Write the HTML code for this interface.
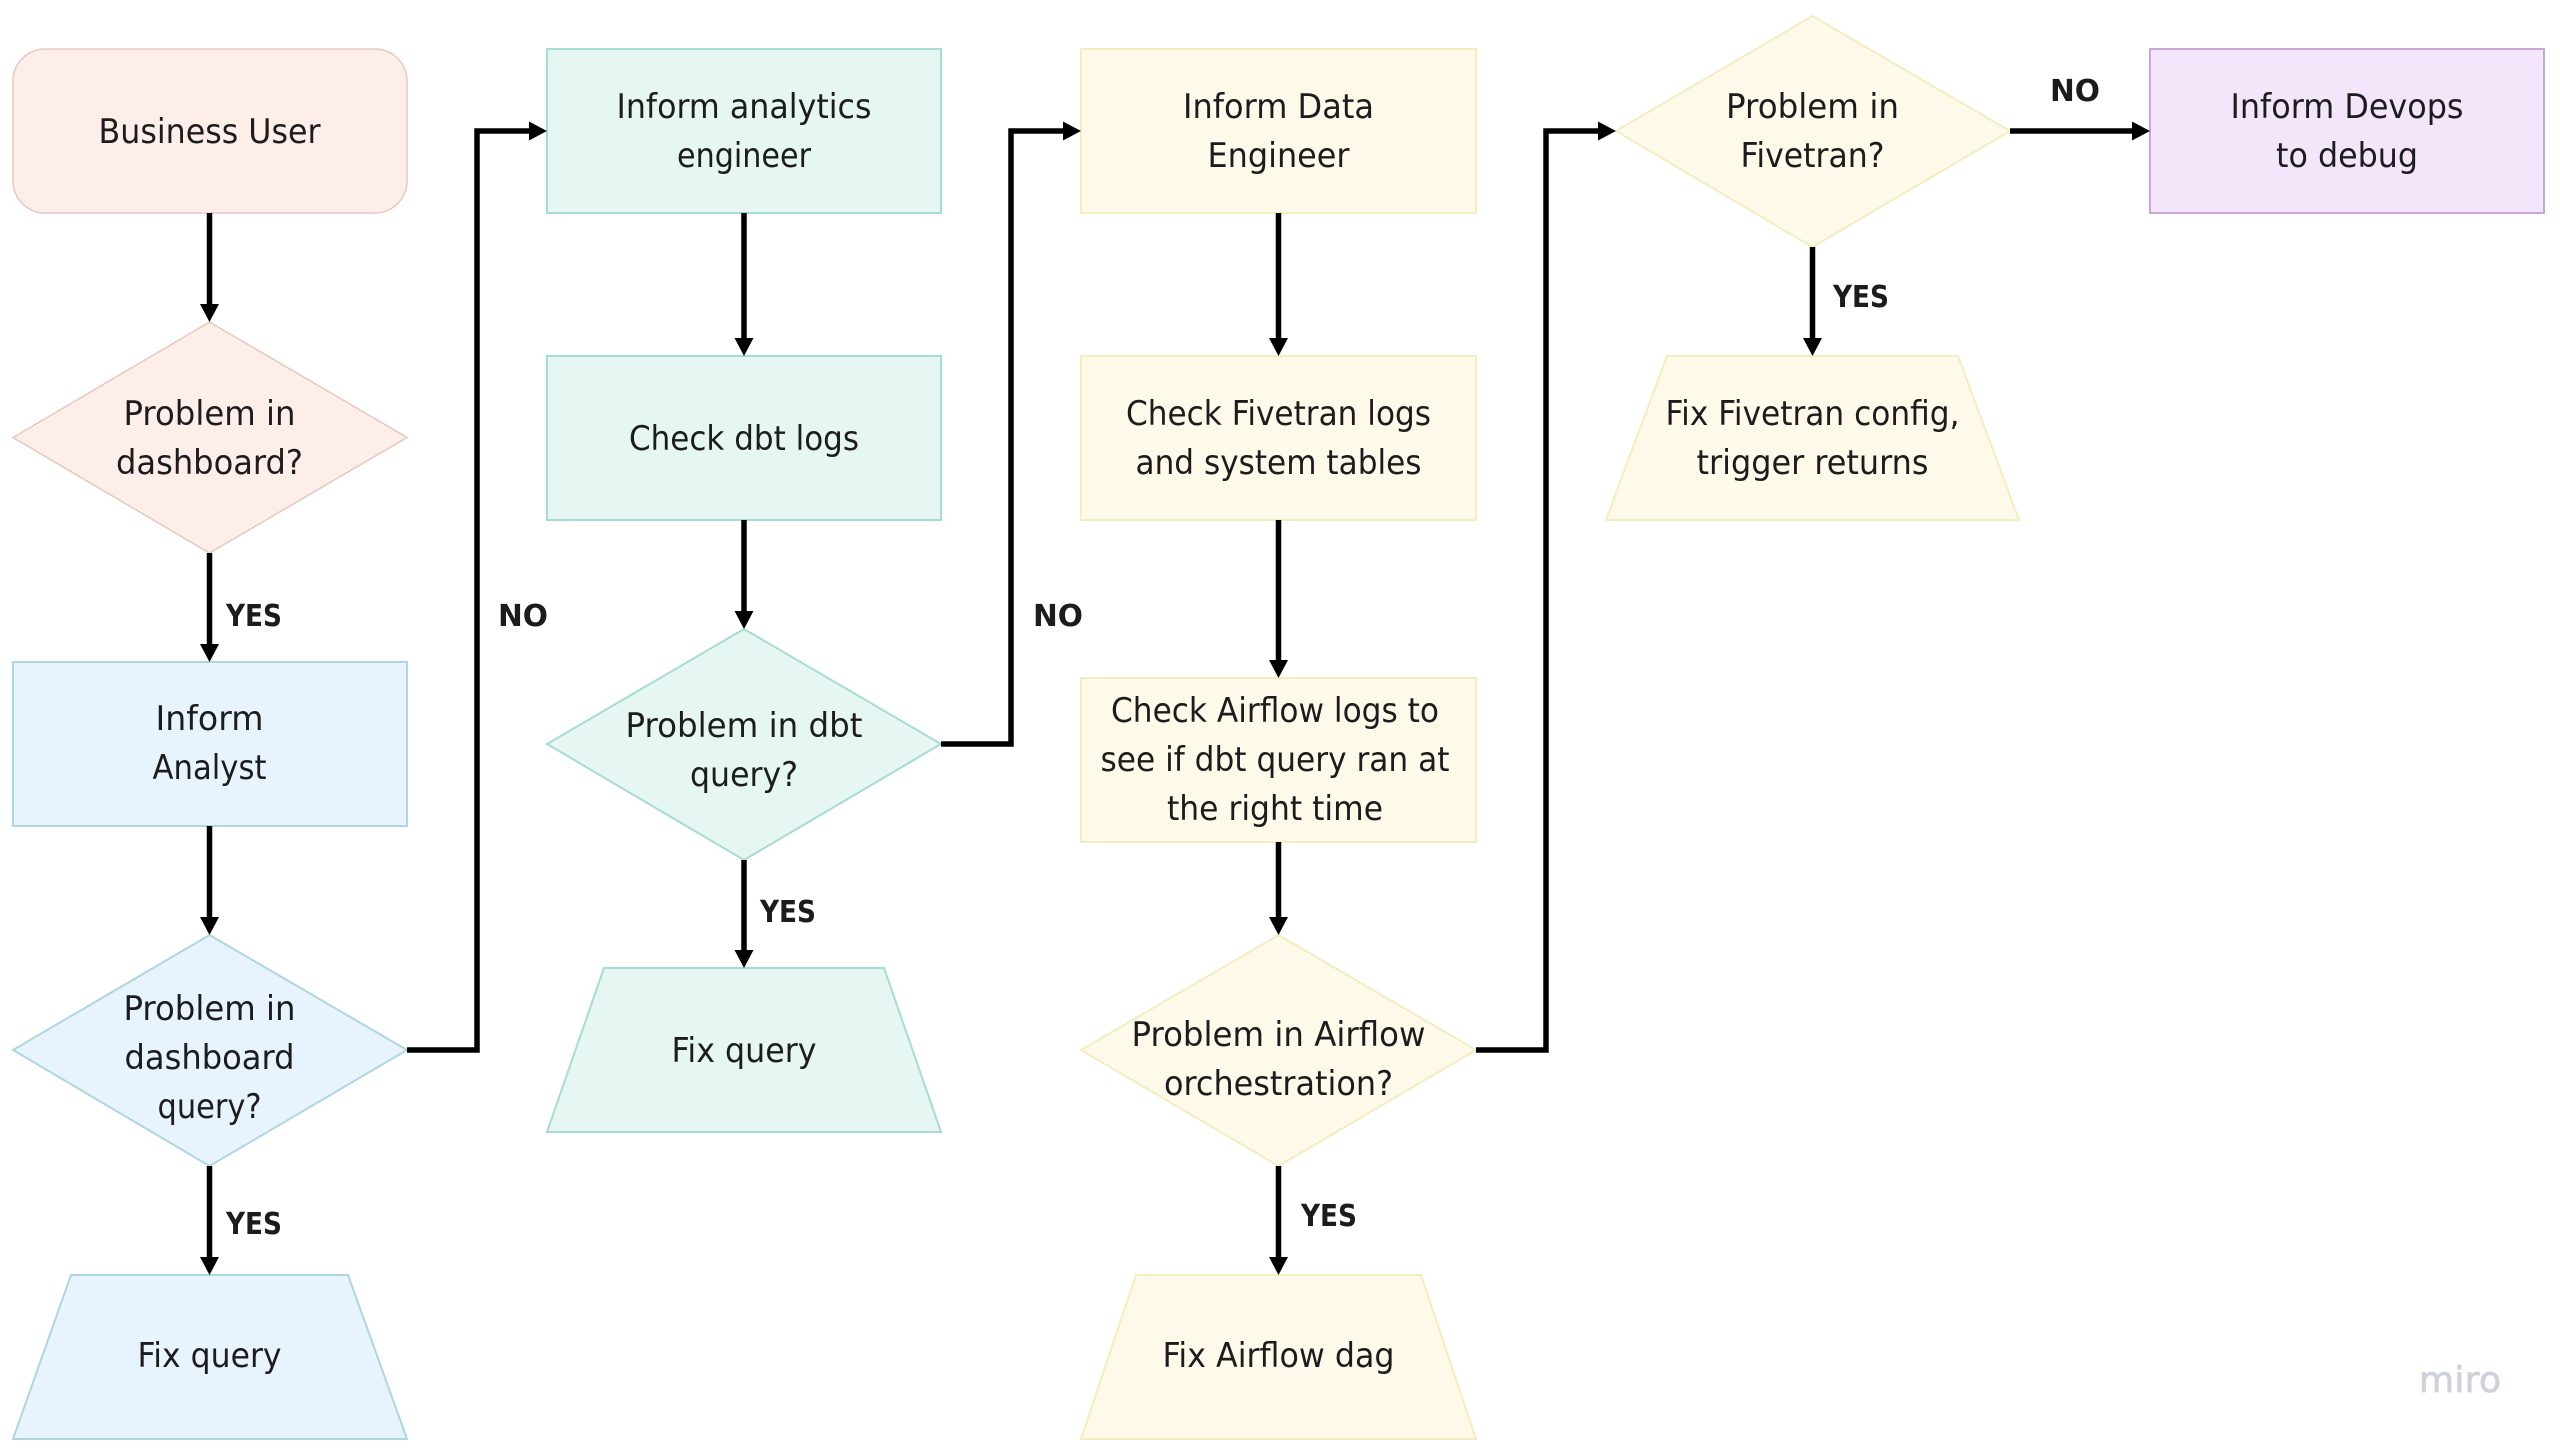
<!DOCTYPE html>
<html>
<head>
<meta charset="utf-8">
<style>
html,body{margin:0;padding:0;background:#fff;}
svg{display:block;}
text{font-family:"DejaVu Sans","Liberation Sans",sans-serif;font-size:34px;fill:#1c1c1e;text-anchor:middle;}
text.b{font-weight:bold;font-size:30px;}
.l{fill:none;stroke:#000;stroke-width:5.5;stroke-linejoin:miter;}
.h{fill:#000;stroke:none;}
.pk{fill:#fdeee9;stroke:#e6c8be;stroke-width:1.5;}
.te{fill:#e6f6f2;stroke:#a6dcd2;stroke-width:2;}
.bl{fill:#e8f4fd;stroke:#aed6e2;stroke-width:2;}
.ye{fill:#fef9e8;stroke:#f3eec0;stroke-width:2;}
.pu{fill:#f4e6fa;stroke:#c8a6d6;stroke-width:2;}
</style>
</head>
<body>
<svg width="2560" height="1452" viewBox="0 0 2560 1452" xmlns="http://www.w3.org/2000/svg">
<rect width="2560" height="1452" fill="#fff"/>

<!-- Column 1 shapes -->
<rect class="pk" x="13" y="49" width="394" height="164" rx="32" ry="32"/>
<polygon class="pk" points="209.500,322 407,437.500 209.500,553 13,437.500"/>
<rect class="bl" x="13" y="662" width="394" height="164"/>
<polygon class="bl" points="209.500,935 407,1050 209.500,1166 13,1050"/>
<polygon class="bl" points="71,1275 348,1275 407,1439 13,1439"/>

<!-- Column 2 shapes -->
<rect class="te" x="547" y="49" width="394" height="164"/>
<rect class="te" x="547" y="356" width="394" height="164"/>
<polygon class="te" points="744,629 941,744 744,860 547,744"/>
<polygon class="te" points="604,968 884,968 941,1132 547,1132"/>

<!-- Column 3 shapes -->
<rect class="ye" x="1081" y="49" width="395" height="164"/>
<rect class="ye" x="1081" y="356" width="395" height="164"/>
<rect class="ye" x="1081" y="678" width="395" height="164"/>
<polygon class="ye" points="1278.500,935 1476,1050 1278.500,1166 1081,1050"/>
<polygon class="ye" points="1136,1275 1421,1275 1476,1439 1081,1439"/>

<!-- Column 4 shapes -->
<polygon class="ye" points="1812.500,16 2010,131 1812.500,247 1616,131"/>
<polygon class="ye" points="1667,356 1958,356 2019,520 1606,520"/>
<rect class="pu" x="2150" y="49" width="394" height="164"/>

<!-- Vertical connectors -->
<path class="l" d="M209.500 213V306M209.500 553V646M209.500 826V919M209.500 1166V1259"/>
<path class="h" d="M200 304h19l-9.500 18zM200 644h19l-9.500 18zM200 917h19l-9.500 18zM200 1257h19l-9.500 18z"/>
<path class="l" d="M744 213V340M744 520V613M744 860V952"/>
<path class="h" d="M734.500 338h19l-9.500 18zM734.500 611h19l-9.500 18zM734.500 950h19l-9.500 18z"/>
<path class="l" d="M1278.500 213V340M1278.500 520V662M1278.500 842V919M1278.500 1166V1259"/>
<path class="h" d="M1269 338h19l-9.500 18zM1269 660h19l-9.500 18zM1269 917h19l-9.500 18zM1269 1257h19l-9.500 18z"/>
<path class="l" d="M1812.500 247V340"/>
<path class="h" d="M1803 338h19l-9.500 18z"/>

<!-- Elbow connectors -->
<path class="l" d="M407 1050H477V131H531"/>
<path class="h" d="M529 121.500v19l18-9.500z"/>
<path class="l" d="M941 744H1011V131H1065"/>
<path class="h" d="M1063 121.500v19l18-9.500z"/>
<path class="l" d="M1476 1050H1546V131H1600"/>
<path class="h" d="M1598 121.500v19l18-9.500z"/>
<path class="l" d="M2010 131H2134"/>
<path class="h" d="M2132 121.500v19l18-9.500z"/>

<!-- Node labels -->
<text x="209.500" y="143" textLength="222" lengthAdjust="spacingAndGlyphs">Business User</text>
<text x="209.500" y="425" textLength="172" lengthAdjust="spacingAndGlyphs">Problem in</text>
<text x="209.500" y="474" textLength="187" lengthAdjust="spacingAndGlyphs">dashboard?</text>
<text x="209.500" y="730" textLength="108" lengthAdjust="spacingAndGlyphs">Inform</text>
<text x="209.500" y="779" textLength="114" lengthAdjust="spacingAndGlyphs">Analyst</text>
<text x="209.500" y="1020" textLength="172" lengthAdjust="spacingAndGlyphs">Problem in</text>
<text x="209.500" y="1069" textLength="170" lengthAdjust="spacingAndGlyphs">dashboard</text>
<text x="209.500" y="1118" textLength="104" lengthAdjust="spacingAndGlyphs">query?</text>
<text x="209.500" y="1367" textLength="144" lengthAdjust="spacingAndGlyphs">Fix query</text>

<text x="744" y="118" textLength="255" lengthAdjust="spacingAndGlyphs">Inform analytics</text>
<text x="744" y="167" textLength="134" lengthAdjust="spacingAndGlyphs">engineer</text>
<text x="744" y="450" textLength="230" lengthAdjust="spacingAndGlyphs">Check dbt logs</text>
<text x="744" y="737" textLength="237" lengthAdjust="spacingAndGlyphs">Problem in dbt</text>
<text x="744" y="786" textLength="108" lengthAdjust="spacingAndGlyphs">query?</text>
<text x="744" y="1062" textLength="145" lengthAdjust="spacingAndGlyphs">Fix query</text>

<text x="1278.500" y="118" textLength="191" lengthAdjust="spacingAndGlyphs">Inform Data</text>
<text x="1278.500" y="167" textLength="142" lengthAdjust="spacingAndGlyphs">Engineer</text>
<text x="1278.500" y="425" textLength="305" lengthAdjust="spacingAndGlyphs">Check Fivetran logs</text>
<text x="1278.500" y="474" textLength="286" lengthAdjust="spacingAndGlyphs">and system tables</text>
<text x="1275" y="722" textLength="328" lengthAdjust="spacingAndGlyphs">Check Airflow logs to</text>
<text x="1275" y="771" textLength="349" lengthAdjust="spacingAndGlyphs">see if dbt query ran at</text>
<text x="1275" y="820" textLength="216" lengthAdjust="spacingAndGlyphs">the right time</text>
<text x="1278.500" y="1046" textLength="294" lengthAdjust="spacingAndGlyphs">Problem in Airflow</text>
<text x="1278.500" y="1095" textLength="229" lengthAdjust="spacingAndGlyphs">orchestration?</text>
<text x="1278.500" y="1367" textLength="232" lengthAdjust="spacingAndGlyphs">Fix Airflow dag</text>

<text x="1812.500" y="118" textLength="173" lengthAdjust="spacingAndGlyphs">Problem in</text>
<text x="1812.500" y="167" textLength="144" lengthAdjust="spacingAndGlyphs">Fivetran?</text>
<text x="1812.500" y="425" textLength="294" lengthAdjust="spacingAndGlyphs">Fix Fivetran config,</text>
<text x="1812.500" y="474" textLength="232" lengthAdjust="spacingAndGlyphs">trigger returns</text>
<text x="2347" y="118" textLength="233" lengthAdjust="spacingAndGlyphs">Inform Devops</text>
<text x="2347" y="167" textLength="142" lengthAdjust="spacingAndGlyphs">to debug</text>

<!-- Connector labels -->
<text class="b" x="254" y="626" textLength="56" lengthAdjust="spacingAndGlyphs">YES</text>
<text class="b" x="254" y="1234" textLength="56" lengthAdjust="spacingAndGlyphs">YES</text>
<text class="b" x="523" y="626" textLength="50" lengthAdjust="spacingAndGlyphs">NO</text>
<text class="b" x="788" y="922" textLength="56" lengthAdjust="spacingAndGlyphs">YES</text>
<text class="b" x="1058" y="626" textLength="50" lengthAdjust="spacingAndGlyphs">NO</text>
<text class="b" x="1329" y="1226" textLength="56" lengthAdjust="spacingAndGlyphs">YES</text>
<text class="b" x="1861" y="307" textLength="56" lengthAdjust="spacingAndGlyphs">YES</text>
<text class="b" x="2075" y="101" textLength="50" lengthAdjust="spacingAndGlyphs">NO</text>

<!-- Watermark -->
<text x="2460" y="1392" style="font-size:36px;fill:#d0d2db;stroke:#d0d2db;stroke-width:0.8;" textLength="82" lengthAdjust="spacing">miro</text>
</svg>
</body>
</html>
